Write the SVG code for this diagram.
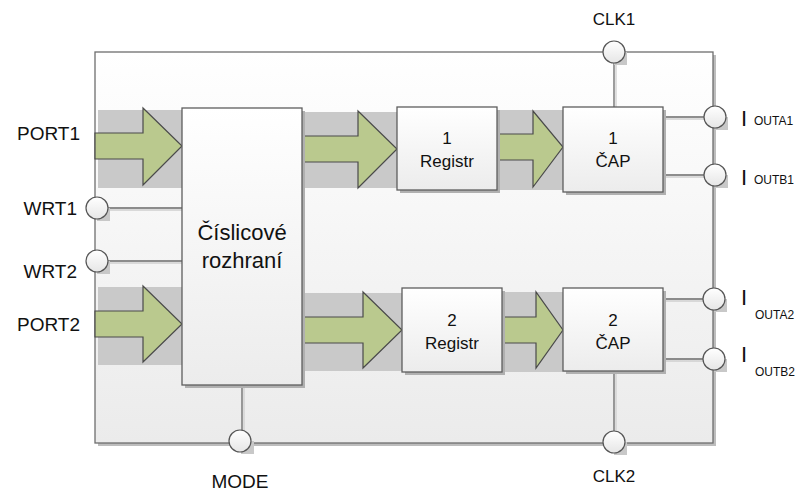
<svg xmlns="http://www.w3.org/2000/svg" width="809" height="491" viewBox="0 0 809 491">
<defs>
<linearGradient id="gBox" x1="0" y1="0" x2="0" y2="1"><stop offset="0" stop-color="#ffffff"/><stop offset="1" stop-color="#ececec"/></linearGradient>
<linearGradient id="gOuter" x1="0" y1="0" x2="0" y2="1"><stop offset="0" stop-color="#ffffff"/><stop offset="1" stop-color="#ebebeb"/></linearGradient>
<linearGradient id="gCirc" x1="0" y1="0" x2="0" y2="1"><stop offset="0" stop-color="#ffffff"/><stop offset="1" stop-color="#e6e6e6"/></linearGradient>
</defs>
<style>
text{font-family:"Liberation Sans",Arial,sans-serif;fill:#111}
.lab{font-size:19px}
.clk{font-size:17px}
.blk{font-size:17px;text-anchor:middle}
.big{font-size:22px;text-anchor:middle}
.I{font-size:22px}
.sub{font-size:12px}
.band{fill:#c9c9c9}
.arr{fill:#bac98e;stroke:#4a4a4a;stroke-width:1.2}
.box{fill:url(#gBox);stroke:#5e5e5e;stroke-width:1.3}
.sh{fill:#b0b0b0}
.wire{stroke:#6a6a6a;stroke-width:1.3;fill:none}
.wsh{stroke:#d0d0d0;stroke-width:1.3;fill:none}
.pin{fill:url(#gCirc);stroke:#555;stroke-width:1.2}
.psh{fill:#c8c8c8}
</style>
<g id="outer">
<rect x="98" y="55" width="618" height="391" fill="#bdbdbd"/>
<rect x="95" y="52" width="618" height="391" fill="url(#gOuter)" stroke="#6e6e6e" stroke-width="1.3"/>
</g>
<g id="bands">
<rect class="band" x="98" y="110" width="88" height="78"/>
<rect class="band" x="302" y="112" width="98" height="76"/>
<rect class="band" x="497" y="110" width="69" height="80"/>
<rect class="band" x="98" y="287" width="88" height="78"/>
<rect class="band" x="302" y="293" width="103" height="78"/>
<rect class="band" x="502" y="292" width="64" height="80"/>
</g>
<g id="connectors">
<path class="wsh" d="M107 210 H182 M107 263 H182 M244 386 V430 M616 64 V107 M663 119 H704 M663 177 H704 M663 301 H703 M663 361 H703 M616 371 V430"/>
<path class="wire" d="M108 208 H182 M108 261 H182 M242 386 V430 M614 63 V107 M663 117 H704 M663 175 H704 M663 299 H703 M663 359 H703 M614 371 V431"/>
<polygon class="arr" points="95,133 143,133 143,108 182,146 143,185 143,159 95,159"/>
<polygon class="arr" points="302,136 358,136 358,111 397,149 358,188 358,162 302,162"/>
<polygon class="arr" points="497,134 533,134 533,111 563,147 533,187 533,160 497,160"/>
<polygon class="arr" points="95,311 143,311 143,286 182,324 143,362 143,337 95,337"/>
<polygon class="arr" points="302,317 363,317 363,292 402,330 363,368 363,343 302,343"/>
<polygon class="arr" points="502,317 536,317 536,292 563,330 536,368 536,343 502,343"/>
</g>
<g id="iface">
<rect class="sh" x="185" y="111" width="120" height="277"/>
<rect class="box" x="182" y="108" width="120" height="277"/>
<text class="big" x="242" y="240">Číslicové</text>
<text class="big" x="242" y="268">rozhraní</text>
</g>
<g id="reg1">
<rect class="sh" x="400" y="110" width="100" height="83"/>
<rect class="box" x="397" y="107" width="100" height="83"/>
<text class="blk" x="447" y="144">1</text>
<text class="blk" x="447" y="167">Registr</text>
</g>
<g id="cap1">
<rect class="sh" x="566" y="110" width="100" height="85"/>
<rect class="box" x="563" y="107" width="100" height="85"/>
<text class="blk" x="613" y="144">1</text>
<text class="blk" x="613" y="167">ČAP</text>
</g>
<g id="reg2">
<rect class="sh" x="405" y="291" width="100" height="84"/>
<rect class="box" x="402" y="288" width="100" height="84"/>
<text class="blk" x="452" y="326">2</text>
<text class="blk" x="452" y="349">Registr</text>
</g>
<g id="cap2">
<rect class="sh" x="566" y="291" width="100" height="83"/>
<rect class="box" x="563" y="288" width="100" height="83"/>
<text class="blk" x="613" y="326">2</text>
<text class="blk" x="613" y="349">ČAP</text>
</g>
<g id="port1"><text class="lab" x="80" y="140" text-anchor="end">PORT1</text></g>
<g id="wrt1">
<rect class="psh" x="97" y="208" width="13" height="13"/>
<circle class="pin" cx="97" cy="208" r="11"/>
<text class="lab" x="77" y="215" text-anchor="end">WRT1</text>
</g>
<g id="wrt2">
<rect class="psh" x="97" y="261" width="13" height="13"/>
<circle class="pin" cx="97" cy="261" r="11"/>
<text class="lab" x="77" y="278" text-anchor="end">WRT2</text>
</g>
<g id="port2"><text class="lab" x="80" y="331" text-anchor="end">PORT2</text></g>
<g id="mode">
<rect class="psh" x="241" y="441" width="13" height="13"/>
<circle class="pin" cx="240" cy="441" r="11"/>
<text class="lab" x="240" y="488" text-anchor="middle">MODE</text>
</g>
<g id="clk1">
<rect class="psh" x="614" y="52" width="13" height="13"/>
<circle class="pin" cx="614" cy="52" r="11"/>
<text class="clk" x="614" y="25" text-anchor="middle">CLK1</text>
</g>
<g id="clk2">
<rect class="psh" x="614" y="442" width="13" height="13"/>
<circle class="pin" cx="614" cy="442" r="11"/>
<text class="clk" x="614" y="482" text-anchor="middle">CLK2</text>
</g>
<g id="outa1">
<rect class="psh" x="715" y="117" width="13" height="13"/>
<circle class="pin" cx="715" cy="117" r="11"/>
<text class="I" x="741" y="126">I</text><text class="sub" x="754" y="125">OUTA1</text>
</g>
<g id="outb1">
<rect class="psh" x="715" y="175" width="13" height="13"/>
<circle class="pin" cx="715" cy="175" r="11"/>
<text class="I" x="741" y="185">I</text><text class="sub" x="754" y="184">OUTB1</text>
</g>
<g id="outa2">
<rect class="psh" x="714" y="299" width="13" height="13"/>
<circle class="pin" cx="714" cy="299" r="11"/>
<text class="I" x="741" y="305">I</text><text class="sub" x="755" y="319">OUTA2</text>
</g>
<g id="outb2">
<rect class="psh" x="714" y="359" width="13" height="13"/>
<circle class="pin" cx="714" cy="359" r="11"/>
<text class="I" x="741" y="362">I</text><text class="sub" x="755" y="376">OUTB2</text>
</g>
</svg>
